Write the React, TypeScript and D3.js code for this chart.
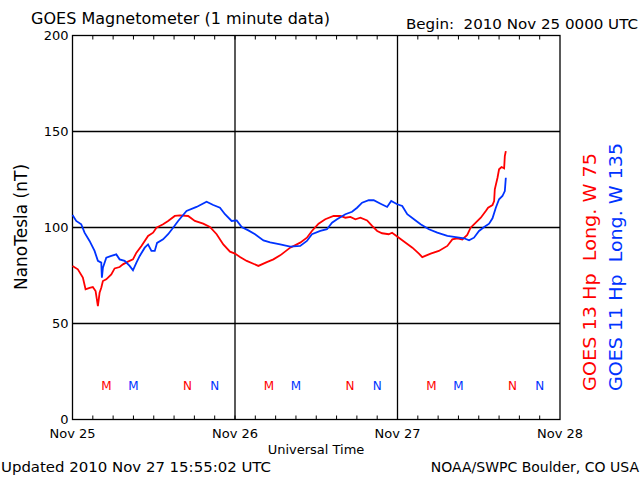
import React from "react";
import * as d3 from "d3";

const W = 640;
const H = 480;

const startDate = Date.UTC(2010, 10, 25, 0, 0);
const endDate = Date.UTC(2010, 10, 28, 0, 0);

const dayLabels = ["Nov 25", "Nov 26", "Nov 27", "Nov 28"];
const yTicks = [0, 50, 100, 150, 200];

// GOES 13 (red) — hours since start, nT
const goes13Hours = [0, 0.79, 1.53, 1.93, 2.52, 3.0, 3.41, 3.75, 4.0, 4.25, 4.49, 4.99, 5.73, 6.22, 6.96, 7.45, 8.19, 8.93, 9.44, 10.18, 11.16, 11.9, 12.4, 13.38, 14.12, 15.11, 15.85, 17.08, 18.07, 19.3, 20.3, 21.29, 22.27, 23.26, 24.0, 24.74, 25.73, 27.45, 28.7, 29.67, 30.67, 32.15, 33.63, 34.62, 35.36, 36.34, 37.33, 38.56, 39.56, 40.3, 41.04, 41.78, 42.52, 43.51, 44.25, 45.0, 45.73, 46.7, 47.2, 48.2, 49.2, 50.2, 51.16, 51.66, 52.9, 54.1, 55.36, 56.1, 56.84, 57.58, 58.3, 58.8, 59.56, 60.3, 61.04, 61.38, 62.03, 62.27, 62.37, 62.77, 63.0, 63.36, 63.75, 63.85, 64.0];
const goes13Values = [80, 78.2, 73.9, 67.8, 68.6, 69, 66.9, 59.1, 66, 68.6, 72.1, 73, 75.6, 78.7, 79.4, 80.8, 82.2, 83.4, 86.9, 90.4, 95.6, 97.3, 99.9, 101.7, 103.4, 106, 106.3, 106, 103.4, 102, 100.3, 96.5, 91.2, 87.4, 86.4, 84.6, 82.6, 80, 82, 83.4, 85.5, 89.5, 92.1, 94.7, 98.2, 102, 104.3, 106, 106, 105.1, 105.5, 104.3, 105.1, 103.7, 100.8, 98.2, 97, 96.5, 97.3, 94.7, 92.1, 89.5, 86.4, 84.6, 86.4, 87.8, 90.4, 93.8, 94.4, 93.8, 96.1, 99.9, 102.5, 105.1, 108.6, 110.3, 111.7, 113.8, 119.9, 125.9, 130.3, 131.5, 130.8, 137.2, 139.8];

// GOES 11 (blue)
const goes11Hours = [0, 0.55, 1.29, 1.78, 2.52, 3.26, 3.75, 4.25, 4.34, 4.49, 4.99, 5.73, 6.47, 6.96, 7.7, 8.44, 8.93, 9.44, 9.93, 10.67, 11.16, 11.66, 12.15, 12.49, 13.38, 14.12, 14.86, 15.6, 16.84, 18.32, 19.8, 20.79, 21.78, 22.52, 23.5, 24.25, 24.99, 25.97, 26.96, 28.2, 29.19, 30.67, 32.15, 33.63, 34.62, 35.36, 36.6, 37.58, 38.33, 39.07, 40.3, 41.29, 42.03, 42.77, 43.75, 44.49, 45.5, 46.47, 47.07, 47.96, 48.7, 49.44, 50.43, 51.41, 52.64, 53.88, 55.36, 56.6, 57.83, 58.57, 59.3, 60.04, 60.8, 61.53, 62.03, 62.52, 63.0, 63.5, 63.85, 64.0];
const goes11Values = [106.5, 103.4, 101.7, 97.3, 93, 87.8, 82.6, 81.7, 73.9, 79, 84.3, 85.2, 86, 83.4, 82.6, 80, 77.7, 81.7, 85.2, 89.5, 91.2, 87.8, 87.8, 92, 93.8, 96.5, 99.9, 103.4, 108.6, 110.7, 113.4, 111.7, 110.3, 106.9, 103.4, 103.7, 100.3, 98.5, 96.5, 93.3, 92.2, 91.2, 90, 90.4, 93, 96.5, 98.2, 99.1, 102.5, 104.3, 106.9, 108.2, 110.3, 112.9, 114.2, 114.2, 112.4, 110.7, 113.8, 112.1, 111.2, 106.9, 104.3, 101.7, 99.1, 97.3, 95.6, 95, 94.4, 93.3, 94.7, 98.2, 100.3, 102, 104.8, 110.3, 114.7, 116.4, 119, 125.9];

// local midnight (M) and noon (N) markers, hours since start
const goes13Midnight = [5, 29, 53];
const goes13Noon = [17, 41, 65];
const goes11Midnight = [9, 33, 57];
const goes11Noon = [21, 45, 69];

const RED = "#ff0000";
const BLUE = "#0033ff";
const FONT = "'DejaVu Sans', sans-serif";

const toDate = (h: number) => new Date(startDate + h * 3600 * 1000);

export default function App() {
  const left = 72.5, right = 560, top = 35.5, bottom = 419.5;
  const x = d3.scaleUtc().domain([new Date(startDate), new Date(endDate)]).range([left, right]);
  const y = d3.scaleLinear().domain([0, 200]).range([bottom, top]);

  const line = d3
    .line<[number, number]>()
    .x((d) => x(toDate(d[0])))
    .y((d) => y(d[1]))
    .curve(d3.curveLinear);

  const red = line(goes13Hours.map((h, i) => [h, goes13Values[i]]) as [number, number][]) || "";
  const blue = line(goes11Hours.map((h, i) => [h, goes11Values[i]]) as [number, number][]) || "";

  const minorTicks = d3.utcHour.every(3)!.range(new Date(startDate), new Date(endDate));
  const dayTicks = d3.utcDay.range(new Date(startDate), new Date(endDate + 1));

  const markerY = 390;
  const markers: { h: number; t: string; c: string }[] = [
    ...goes13Midnight.map((h) => ({ h, t: "M", c: RED })),
    ...goes13Noon.map((h) => ({ h, t: "N", c: RED })),
    ...goes11Midnight.map((h) => ({ h, t: "M", c: BLUE })),
    ...goes11Noon.map((h) => ({ h, t: "N", c: BLUE })),
  ];

  return (
    <svg width={W} height={H} style={{ position: "absolute", left: 0, top: 0, background: "#fff" }} fontFamily={FONT}>
      <rect width={W} height={H} fill="#fff" />
      {/* horizontal gridlines */}
      {yTicks.slice(1, -1).map((v) => (
        <line key={"h" + v} x1={left} x2={right} y1={y(v)} y2={y(v)} stroke="#000" strokeWidth={1.3} />
      ))}
      {/* vertical day lines */}
      {dayTicks.slice(1, -1).map((d, i) => (
        <line key={"v" + i} x1={x(d)} x2={x(d)} y1={top} y2={bottom} stroke="#000" strokeWidth={1.3} />
      ))}
      {/* minor ticks */}
      {minorTicks.map((d, i) => (
        <g key={"t" + i}>
          <line x1={x(d)} x2={x(d)} y1={bottom} y2={bottom - 4} stroke="#000" strokeWidth={1} />
          <line x1={x(d)} x2={x(d)} y1={top} y2={top + 4} stroke="#000" strokeWidth={1} />
        </g>
      ))}
      <rect x={left} y={top} width={right - left} height={bottom - top} fill="none" stroke="#000" strokeWidth={1.3} />

      <path d={red} fill="none" stroke={RED} strokeWidth={1.8} strokeLinejoin="miter" />
      <path d={blue} fill="none" stroke={BLUE} strokeWidth={1.8} strokeLinejoin="miter" />

      {markers.map((m, i) => (
        <text key={"m" + i} x={x(toDate(m.h))} y={markerY} fill={m.c} fontSize={12} textAnchor="middle">
          {m.t}
        </text>
      ))}

      {/* y tick labels */}
      {yTicks.map((v) => (
        <text key={"yl" + v} x={left - 4} y={y(v) + 4.5} fontSize={13} textAnchor="end" fill="#000">
          {v}
        </text>
      ))}
      {/* x tick labels */}
      {dayTicks.map((d, i) => (
        <text key={"xl" + i} x={x(d)} y={438} fontSize={13} textAnchor="middle" fill="#000">
          {dayLabels[i]}
        </text>
      ))}

      <text x={316} y={454} fontSize={13} textAnchor="middle" fill="#000">Universal Time</text>
      <text x={31} y={24} fontSize={15} fill="#000" textLength={299} lengthAdjust="spacingAndGlyphs">GOES Magnetometer (1 minute data)</text>
      <text x={406} y={29} fontSize={14} fill="#000" textLength={232} lengthAdjust="spacingAndGlyphs" style={{ whiteSpace: "pre" }}>{"Begin:  2010 Nov 25 0000 UTC"}</text>
      <text x={1} y={472} fontSize={14} fill="#000" textLength={270} lengthAdjust="spacingAndGlyphs">Updated 2010 Nov 27 15:55:02 UTC</text>
      <text x={639} y={472} fontSize={14} fill="#000" textAnchor="end">NOAA/SWPC Boulder, CO USA</text>

      <text transform="translate(27,227) rotate(-90)" fontSize={17} textAnchor="middle" fill="#000">NanoTesla (nT)</text>

      <text transform="translate(596,391) rotate(-90)" fontSize={17} fill={RED} textLength={238} lengthAdjust="spacingAndGlyphs" style={{ whiteSpace: "pre" }}>{"GOES 13 Hp  Long. W 75"}</text>
      <text transform="translate(622,391) rotate(-90)" fontSize={17} fill={BLUE} textLength={248} lengthAdjust="spacingAndGlyphs" style={{ whiteSpace: "pre" }}>{"GOES 11 Hp  Long. W 135"}</text>
    </svg>
  );
}
